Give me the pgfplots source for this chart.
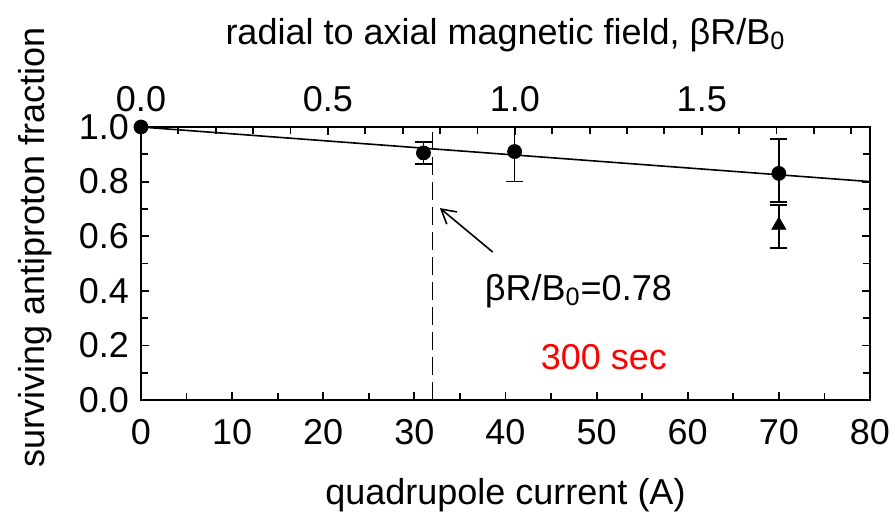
\documentclass[border=0pt]{standalone}
\usepackage{fontspec}
\setmainfont{Liberation Sans}
\usepackage{pgfplots}
\pgfplotsset{compat=1.18}
\usetikzlibrary{arrows.meta}
\begin{document}
\begin{tikzpicture}[font=\fontsize{18}{21}\selectfont]
\path[use as bounding box] (-70.5pt,-60pt) rectangle (377pt,200pt);
\begin{axis}[
  scale only axis, width=364.5pt, height=136.5pt,
  at={(0,0)}, anchor=south west,
  xmin=0, xmax=80, ymin=0, ymax=1,
  xtick={0,10,20,30,40,50,60,70,80},
  minor xtick={5,15,25,35,45,55,65,75},
  ytick={0,0.2,0.4,0.6,0.8,1.0},
  minor ytick={0.1,0.3,0.5,0.7,0.9},
  xtick pos=left, ytick pos=both,
  tick align=inside,
  major tick length=4pt, minor tick length=3.5pt,
  axis line style={line width=1pt},
  every tick/.style={black, line width=0.9pt},
  /pgf/number format/assume math mode=true,
  yticklabel style={/pgf/number format/fixed, /pgf/number format/fixed zerofill, /pgf/number format/precision=1, xshift=-2.5pt},
  xticklabel style={yshift=-6pt},
  xlabel={quadrupole current (A)},
  ylabel={surviving antiproton fraction},
  xlabel style={at={(axis description cs:0.5,-0.348)}, anchor=center},
  ylabel style={at={(axis description cs:-0.1454,0.559)}, anchor=center},
  clip=false,
]
\addplot[black, line width=0.8pt, no marks] coordinates {(0,1.0) (80,0.80)};
\addplot[black, line width=0.8pt, no marks, dash pattern=on 9pt off 3.5pt] coordinates {(32,0) (32,1)};
\addplot[black, only marks, mark=*, mark size=3.5pt,
  error bars/.cd, y dir=both, y explicit,
  error bar style={line width=0.8pt},
  error mark options={rotate=90, mark size=4.25pt, line width=0.8pt}]
  coordinates {
    (0,1.0)
    (31,0.905) +- (0,0.04)
    (41,0.91) += (0,0.09) -= (0,0.11)
    (70,0.83) += (0,0.125) -= (0,0.105)
  };
\addplot[black, only marks, mark=triangle*, mark size=4pt,
  error bars/.cd, y dir=both, y explicit,
  error bar style={line width=0.8pt},
  error mark options={rotate=90, mark size=4.25pt, line width=0.8pt}]
  coordinates {
    (70,0.64) += (0,0.075) -= (0,0.083)
  };
\draw[line width=0.8pt, -{Straight Barb[length=7pt, width=8pt]}] (axis cs:38.6,0.542) -- (axis cs:32.8,0.703);
\node at (axis cs:48,0.40) {βR/B\textsubscript{0}=0.78};
\node[red] at (axis cs:50.8,0.157) {300 sec};
\end{axis}
\begin{axis}[
  scale only axis, width=364.5pt, height=136.5pt,
  at={(0,0)}, anchor=south west,
  xmin=0, xmax=1.95, ymin=0, ymax=1,
  axis x line*=top, hide y axis,
  tick align=inside,
  major tick length=4pt, minor tick length=3.5pt,
  axis line style={line width=1pt},
  every tick/.style={black, line width=0.9pt},
  xtick={0,0.5,1.0,1.5},
  minor xtick={0.1,0.2,0.3,0.4,0.6,0.7,0.8,0.9,1.1,1.2,1.3,1.4,1.6,1.7,1.8,1.9},
  /pgf/number format/assume math mode=true,
  xticklabel style={/pgf/number format/fixed, /pgf/number format/fixed zerofill, /pgf/number format/precision=1, yshift=4pt},
  xlabel={radial to axial magnetic field, βR/B\textsubscript{0}},
  xlabel style={at={(axis description cs:0.5,1.337)}, anchor=center},
]
\addplot[draw=none] coordinates {(0,0)};
\end{axis}
\end{tikzpicture}
\end{document}
